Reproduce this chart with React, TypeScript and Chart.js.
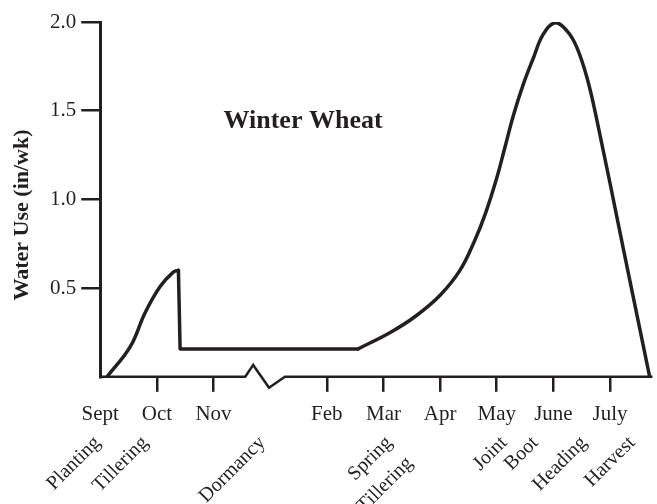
import React, { useEffect, useRef } from 'react';
import { Chart, registerables } from 'chart.js';

Chart.register(...registerables);

// Month axis (Dec/Jan compressed by the axis break)
const monthLabels = ['Sept', 'Oct', 'Nov', 'Feb', 'Mar', 'Apr', 'May', 'June', 'July'];
const monthPositions = [0, 1, 2, 4, 5, 6, 7, 8, 9];

// Y ticks
const yTickValues = [0, 0.5, 1.0, 1.5, 2.0];

// Water use curve (x in month units, y in in/wk), split by phase
const fallX = [0.12, 0.53, 0.79, 1.06, 1.29, 1.38];
const fallY = [0, 0.17, 0.36, 0.51, 0.59, 0.6];
const dormantX = [1.38, 1.41, 4.55];
const dormantY = [0.6, 0.157, 0.157];
const springX = [4.55, 5.12, 5.56, 6.0, 6.35, 6.6, 6.8, 7.0, 7.15, 7.3, 7.47, 7.65, 7.82, 8.03, 8.24, 8.41, 8.59, 8.76, 9.23, 9.7];
const springY = [0.157, 0.25, 0.34, 0.46, 0.6, 0.76, 0.92, 1.12, 1.3, 1.48, 1.65, 1.8, 1.93, 1.995, 1.95, 1.86, 1.69, 1.46, 0.73, 0];

// X axis line with break symbol
const axisLineX = [0, 2.56, 2.7, 2.98, 3.26, 9.75];
const axisLineY = [0, 0, 0.067, -0.062, 0, 0];

// Growth stages
const stageLabels = [['Planting'], ['Tillering'], ['Dormancy'], ['Spring', 'Tillering'], ['Joint'], ['Boot'], ['Heading'], ['Harvest']];
const stagePositions = [-0.05, 0.79, 2.86, 5.1, 7.13, 7.68, 8.54, 9.39];

const chartTitle = 'Winter Wheat';
const yAxisTitle = 'Water Use (in/wk)';

export default function App() {
  const ref = useRef<HTMLCanvasElement>(null);

  useEffect(() => {
    const canvas = ref.current;
    if (!canvas) return;
    const ink = '#231f20';
    const serif = "'Liberation Serif', 'Times New Roman', serif";
    const pts = (xs: number[], ys: number[]) => xs.map((x, i) => ({ x, y: ys[i] }));

    const lineStyle = {
      borderColor: ink,
      borderWidth: 3.5,
      pointRadius: 0,
      fill: false,
      borderJoinStyle: 'round',
      borderCapStyle: 'round',
    };

    const extras = {
      id: 'extras',
      afterDraw(chart: any) {
        const { ctx, chartArea, scales } = chart;
        const xs = scales.x;
        const ys = scales.y;
        ctx.save();
        ctx.fillStyle = ink;
        ctx.font = `bold 26px ${serif}`;
        ctx.textAlign = 'center';
        ctx.textBaseline = 'alphabetic';
        ctx.fillText(chartTitle, xs.getPixelForValue(3.58), ys.getPixelForValue(1.405));

        ctx.save();
        ctx.translate(22, 215);
        ctx.rotate(-Math.PI / 2);
        ctx.font = `bold 22px ${serif}`;
        ctx.textBaseline = 'middle';
        ctx.textAlign = 'center';
        ctx.fillText(yAxisTitle, 0, 0);
        ctx.restore();

        ctx.font = `20px ${serif}`;
        ctx.textAlign = 'right';
        ctx.textBaseline = 'middle';
        stageLabels.forEach((lines, i) => {
          const px = xs.getPixelForValue(stagePositions[i]);
          const py = chartArea.bottom + 63;
          ctx.save();
          ctx.translate(px, py);
          ctx.rotate(-Math.PI / 4);
          lines.forEach((t, j) => ctx.fillText(t, 0, j * 29));
          ctx.restore();
        });
        ctx.restore();
      },
    };

    const chart = new Chart(canvas, {
      type: 'line',
      data: {
        datasets: [
          { ...lineStyle, data: pts(fallX, fallY), tension: 0.4 },
          { ...lineStyle, data: pts(dormantX, dormantY), tension: 0 },
          { ...lineStyle, data: pts(springX, springY), tension: 0.4 },
          {
            data: pts(axisLineX, axisLineY),
            borderColor: ink,
            borderWidth: 2.5,
            pointRadius: 0,
            tension: 0,
            fill: false,
            clip: false as any,
          },
        ],
      },
      options: {
        responsive: false,
        animation: false,
        layout: { padding: { left: 45, top: 22, right: 4.5, bottom: 67 } },
        plugins: { legend: { display: false }, tooltip: { enabled: false } },
        scales: {
          x: {
            type: 'linear',
            min: 0,
            max: 9.75,
            afterBuildTicks: (s: any) => {
              s.ticks = monthPositions.map((v) => ({ value: v }));
            },
            ticks: {
              autoSkip: false,
              maxRotation: 0,
              minRotation: 0,
              padding: 10,
              color: ink,
              font: { family: serif, size: 21 },
              callback: (v: any) => monthLabels[monthPositions.indexOf(Number(v))],
            },
            grid: {
              drawOnChartArea: false,
              tickLength: 15,
              lineWidth: 2.5,
              color: (c: any) => (c.tick && c.tick.value === 0 ? 'rgba(0,0,0,0)' : ink),
            },
            border: { display: false },
          },
          y: {
            min: 0,
            max: 2,
            afterBuildTicks: (s: any) => {
              s.ticks = yTickValues.map((v) => ({ value: v }));
            },
            ticks: {
              padding: 5,
              color: ink,
              font: { family: serif, size: 21 },
              callback: (v: any) => (Number(v) === 0 ? '' : Number(v).toFixed(1)),
            },
            grid: {
              drawOnChartArea: false,
              tickLength: 19,
              lineWidth: 2.5,
              color: (c: any) => (c.tick && c.tick.value === 0 ? 'rgba(0,0,0,0)' : ink),
            },
            border: { display: true, color: ink, width: 3 },
          },
        },
      },
      plugins: [extras],
    } as any);

    return () => chart.destroy();
  }, []);

  return (
    <div style={{ position: 'fixed', left: 0, top: 0, width: 657, height: 504, background: '#fff' }}>
      <canvas ref={ref} width={657} height={504} style={{ display: 'block' }} />
    </div>
  );
}
